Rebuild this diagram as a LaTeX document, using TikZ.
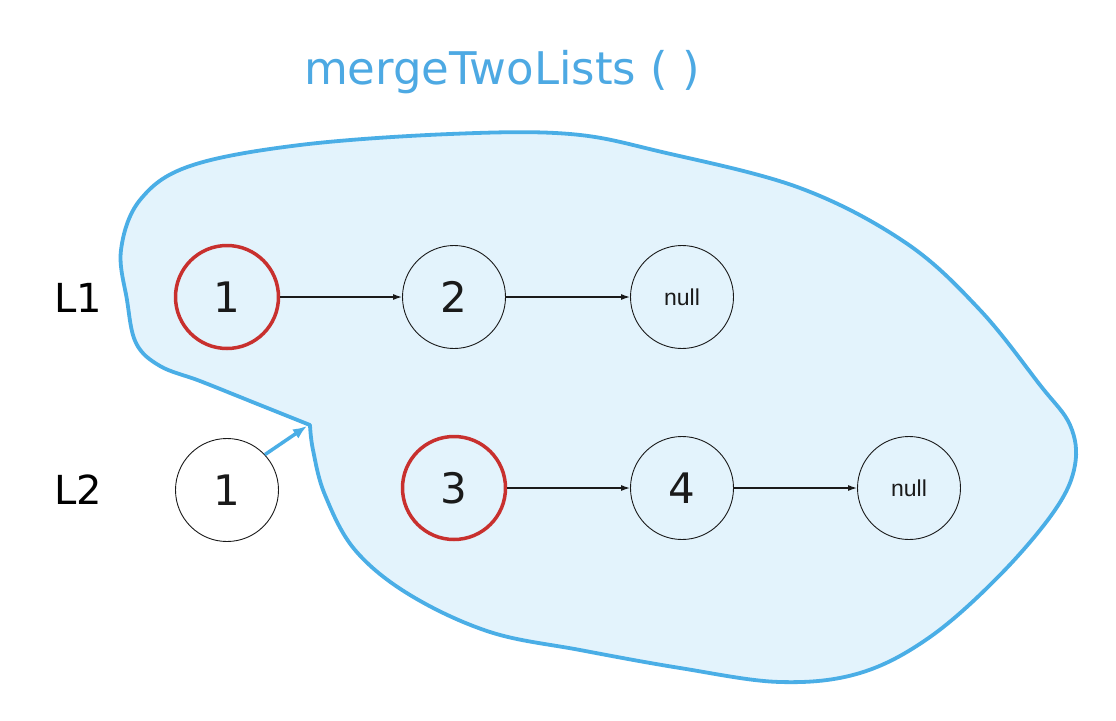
\documentclass[tikz,border=0pt]{standalone}
\usepackage{fontspec}
\setmainfont{DejaVu Sans}
\newfontfamily\nullface{Liberation Sans}
\usetikzlibrary{arrows.meta}
\definecolor{blobline}{HTML}{4AAEE6}
\definecolor{blobfill}{HTML}{E3F3FC}
\definecolor{titleblue}{HTML}{4DA9E3}
\definecolor{nodered}{HTML}{C8302E}
\definecolor{ink}{HTML}{1A1A1A}
\tikzset{
  listnode/.style={circle, draw=ink, line width=0.9pt, minimum size=103pt, inner sep=0pt, font=\fontsize{42}{42}\selectfont, text=ink},
  headnode/.style={listnode, draw=nodered, line width=3.5pt},
  nullnode/.style={listnode, font=\nullface\fontsize{23}{23}\selectfont},
  lbl/.style={font=\fontsize{40}{40}\selectfont, text=black},
  nextarrow/.style={-{Latex[length=9pt,width=6pt]}, line width=1.3pt, draw=ink},
  blob/.style={draw=blobline, fill=blobfill, line width=3.8pt, line join=round},
  moveto/.style={-{Latex[length=14pt,width=11pt]}, draw=blobline, line width=3.5pt}
}
\begin{document}
\begin{tikzpicture}[x=1pt,y=-1pt]
\useasboundingbox (0,0) rectangle (1116,720);
\fill[white] (0,0) rectangle (1116,720);
% merged region
\draw[blob] plot[smooth, tension=0.6] coordinates {
(310,425) (250,401) (200,381) (160,366) (136,343) (127,300) (121,250) (140,200) (190,166)
(300,145) (450,134) (570,134) (662,152) (800,188) (906,243) (980,310) (1040,385)
(1070,425) (1075,465) (1055,510) (1000,575) (930,637) (860,673) (780,682) (680,668)
(580,650) (490,632) (410,595) (355,550) (325,495) (313,450) (310,425)} -- cycle;
\coordinate (cusp) at (307,426);
% title
\node[font=\fontsize{45}{45}\selectfont, text=titleblue] (title) at (502,72) {mergeTwoLists ( )};
% labels
\node[lbl] (L1) at (78,298) {L1};
\node[lbl] (L2) at (78,490) {L2};
% list 1
\node[headnode] (a1) at (227,297) {1};
\node[listnode] (a2) at (454,297) {2};
\node[nullnode] (a3) at (682,297) {null};
% list 2
\node[listnode] (b1) at (227,490) {1};
\node[headnode] (b2) at (454,488) {3};
\node[listnode] (b3) at (682,488) {4};
\node[nullnode] (b4) at (909,488) {null};
% connectors
\draw[nextarrow] (a1) -- (a2);
\draw[nextarrow] (a2) -- (a3);
\draw[nextarrow] (b2) -- (b3);
\draw[nextarrow] (b3) -- (b4);
\draw[moveto] (b1.43) -- (cusp);
\end{tikzpicture}
\end{document}
